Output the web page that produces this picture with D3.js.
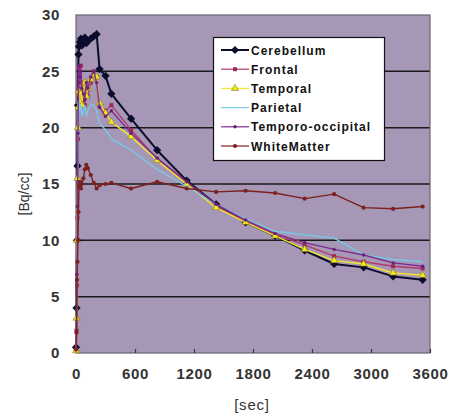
<!DOCTYPE html>
<html>
<head>
<meta charset="utf-8">
<script src="https://cdn.jsdelivr.net/npm/d3@7/dist/d3.min.js"></script>
<style>
  html, body { margin: 0; padding: 0; background: #fff; }
  svg { display: block; }
  text { font-family: "Liberation Sans", Arial, sans-serif; }
</style>
</head>
<body>
<svg id="chart" width="452" height="416"></svg>
<script>
// Time-activity curves: frame mid-times in seconds
const times = [0, 5, 10, 15, 20, 25, 30, 40, 50, 60, 75, 90, 105, 120, 150, 180, 210, 240, 300, 360, 560, 825, 1125, 1425, 1725, 2025, 2325, 2625, 2925, 3225, 3525];

const cerebellum = [0.5, 4.0, 10.0, 16.6, 22.0, 26.5, 27.2, 27.6, 27.9, 27.3, 27.8, 28.0, 27.5, 27.7, 27.9, 28.1, 28.3, 25.2, 24.6, 23.0, 20.8, 18.0, 15.3, 13.2, 11.6, 10.4, 9.1, 7.9, 7.6, 6.8, 6.5];
const frontal = [0.3, 2.0, 6.0, 12.0, 19.0, 23.5, 25.3, 24.0, 25.5, 23.0, 22.5, 22.0, 23.5, 22.8, 24.0, 25.0, 24.5, 22.0, 21.5, 22.0, 19.8, 17.2, 15.1, 13.0, 11.7, 10.5, 9.6, 8.6, 8.1, 7.7, 7.5];
const temporal = [0.2, 3.1, 10.0, 15.5, 20.0, 21.8, 23.2, 22.3, 23.0, 22.0, 23.5, 24.0, 22.8, 23.5, 24.3, 24.7, 24.5, 22.2, 21.3, 20.5, 19.2, 17.1, 15.0, 12.9, 11.6, 10.4, 9.2, 8.2, 7.9, 7.1, 6.9];
const parietal = [0.2, 2.5, 8.0, 14.0, 18.5, 21.0, 22.5, 21.5, 22.0, 21.0, 21.5, 22.0, 21.0, 21.5, 22.0, 22.0, 21.5, 20.4, 19.8, 19.0, 18.0, 16.3, 14.8, 13.2, 11.9, 10.8, 10.5, 10.2, 8.7, 8.3, 8.1];
const temporoOccipital = [0.3, 2.0, 7.0, 13.0, 19.5, 24.0, 25.5, 24.5, 25.0, 23.5, 23.0, 22.5, 24.0, 23.5, 24.5, 25.0, 24.0, 21.8, 21.0, 21.5, 19.5, 17.3, 15.2, 13.2, 11.8, 10.6, 9.8, 9.2, 8.7, 8.0, 7.7];
const whiteMatter = [0.3, 1.8, 6.5, 8.1, 10.0, 12.5, 14.8, 15.2, 14.6, 15.0, 15.5, 16.3, 16.7, 16.4, 15.8, 15.1, 14.6, 14.9, 15.0, 15.1, 14.6, 15.2, 14.6, 14.3, 14.4, 14.2, 13.7, 14.1, 12.9, 12.8, 13.0];

const seriesNames = ["Cerebellum", "Frontal", "Temporal", "Parietal", "Temporo-occipital", "WhiteMatter"];
const seriesValues = [cerebellum, frontal, temporal, parietal, temporoOccipital, whiteMatter];

const xTicks = [0, 600, 1200, 1800, 2400, 3000, 3600];
const yTicks = [0, 5, 10, 15, 20, 25, 30];

// Per-series look
const styles = [
  { line: "#0c0c2e", marker: "diamond",  fill: "#0c0c2e", size: 34, width: 2 },
  { line: "#b23a6c", marker: "square",   fill: "#9a2a5a", size: 16, width: 1.4 },
  { line: "#f0e828", marker: "triangle", fill: "#f2ea1a", size: 22, width: 1.4, stroke: "#8a7a20" },
  { line: "#78c8e6", marker: "none",     fill: "#78c8e6", size: 0,  width: 1.4 },
  { line: "#7e2e8e", marker: "circle",   fill: "#6a1e7a", size: 9,  width: 1.4 },
  { line: "#7c2020", marker: "circle",   fill: "#7c2020", size: 14, width: 1.4 }
];

const svg = d3.select("#chart");
const m = { left: 76, top: 15, right: 430, bottom: 353 };

const x = d3.scaleLinear().domain([0, 3600]).range([m.left, m.right]);
const y = d3.scaleLinear().domain([0, 30]).range([m.bottom, m.top]);

// Plot area
svg.append("rect")
  .attr("x", m.left).attr("y", m.top)
  .attr("width", m.right - m.left).attr("height", m.bottom - m.top)
  .attr("fill", "#a797b6");

// Horizontal gridlines
svg.append("g")
  .selectAll("line")
  .data(yTicks.filter(d => d > 0 && d < 30))
  .join("line")
  .attr("x1", m.left).attr("x2", m.right)
  .attr("y1", d => y(d)).attr("y2", d => y(d))
  .attr("stroke", "#1a1a1a").attr("stroke-width", 1.5);

// Plot border
svg.append("rect")
  .attr("x", m.left).attr("y", m.top)
  .attr("width", m.right - m.left).attr("height", m.bottom - m.top)
  .attr("fill", "none").attr("stroke", "#6a6470").attr("stroke-width", 1.2);

// X axis (ticks pointing inward)
const xAxis = svg.append("g")
  .attr("transform", `translate(0,${m.bottom})`)
  .call(d3.axisBottom(x).tickValues(xTicks).tickFormat(d3.format("d"))
    .tickSizeInner(-4).tickSizeOuter(0).tickPadding(15));
xAxis.select(".domain").remove();
xAxis.selectAll(".tick line").attr("stroke", "#3a3a3a").attr("stroke-width", 1.2);
xAxis.selectAll("text")
  .attr("font-size", 15).attr("fill", "#333").attr("font-weight", "bold")
  .attr("letter-spacing", 0.6)
  .attr("font-family", "'Liberation Sans', Arial, sans-serif");

// Y axis
const yAxis = svg.append("g")
  .attr("transform", `translate(${m.left},0)`)
  .call(d3.axisLeft(y).tickValues(yTicks).tickFormat(d3.format("d")).tickSize(0).tickPadding(16));
yAxis.select(".domain").remove();
yAxis.selectAll("text")
  .attr("font-size", 15).attr("fill", "#333").attr("font-weight", "bold")
  .attr("letter-spacing", 0.6)
  .attr("font-family", "'Liberation Sans', Arial, sans-serif");

// Axis titles
svg.append("text")
  .attr("x", 252).attr("y", 410)
  .attr("text-anchor", "middle")
  .attr("font-size", 15).attr("fill", "#333").attr("letter-spacing", 0.8)
  .text("[sec]");
svg.append("text")
  .attr("transform", "translate(29,194) rotate(-90)")
  .attr("text-anchor", "middle")
  .attr("font-size", 14).attr("fill", "#333")
  .text("[Bq/cc]");

const markerPath = (kind, size) => {
  if (kind === "diamond") return d3.symbol().type(d3.symbolSquare).size(size)();
  const t = { square: d3.symbolSquare, triangle: d3.symbolTriangle, circle: d3.symbolCircle }[kind];
  return d3.symbol().type(t).size(size)();
};
const markerRotate = kind => kind === "diamond" ? " rotate(45)" : "";

const line = d3.line().x(d => x(d[0])).y(d => y(d[1]));

const plot = svg.append("g");
seriesValues.forEach((vals, i) => {
  const st = styles[i];
  const pts = times.map((t, j) => [t, vals[j]]);
  plot.append("path")
    .datum(pts)
    .attr("d", line)
    .attr("fill", "none")
    .attr("stroke", st.line)
    .attr("stroke-width", st.width)
    .attr("stroke-linejoin", "round");
  if (st.marker !== "none") {
    plot.append("g")
      .selectAll("path")
      .data(pts)
      .join("path")
      .attr("transform", d => `translate(${x(d[0])},${y(d[1])})${markerRotate(st.marker)}`)
      .attr("d", markerPath(st.marker, st.size))
      .attr("fill", st.fill)
      .attr("stroke", st.stroke || "none")
      .attr("stroke-width", 0.6);
  }
});

// Legend
const lg = svg.append("g");
lg.append("rect")
  .attr("x", 213.5).attr("y", 37.5).attr("width", 171).attr("height", 123)
  .attr("fill", "#fff").attr("stroke", "#111").attr("stroke-width", 1.2);
const legendY = d3.scalePoint().domain(seriesNames).range([50, 146]);
seriesNames.forEach((name, i) => {
  const st = styles[i];
  const yy = legendY(name);
  lg.append("line")
    .attr("x1", 221).attr("x2", 249).attr("y1", yy).attr("y2", yy)
    .attr("stroke", st.line).attr("stroke-width", i === 0 ? 2 : 1.2);
  if (st.marker !== "none") {
    lg.append("path")
      .attr("transform", `translate(235,${yy})${markerRotate(st.marker)}`)
      .attr("d", markerPath(st.marker, st.size))
      .attr("fill", st.fill)
      .attr("stroke", st.stroke || "none").attr("stroke-width", 0.6);
  }
  lg.append("text")
    .attr("x", 251).attr("y", yy + 4.5)
    .attr("font-size", 12).attr("font-weight", "bold")
    .attr("letter-spacing", 1).attr("fill", "#111")
    .text(name);
});
</script>
</body>
</html>
